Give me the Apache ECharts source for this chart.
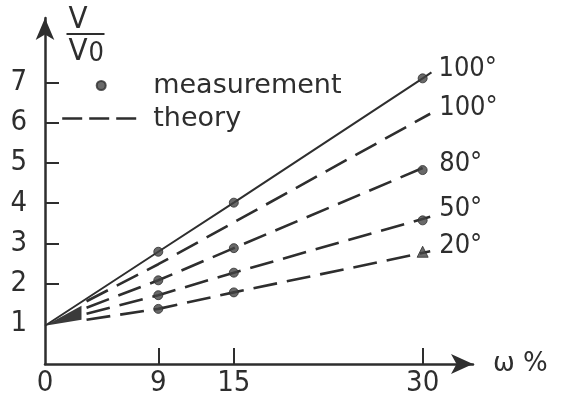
<!DOCTYPE html>
<html>
<head>
<meta charset="utf-8">
<script src="https://cdn.jsdelivr.net/npm/echarts@6/dist/echarts.min.js"></script>
<style>
  html, body { margin: 0; padding: 0; background: #fff; }
  #chart { width: 563px; height: 398px; }
</style>
</head>
<body>
<div id="chart"></div>
<script>
// Relative volume V/V0 against moisture content ω % at several temperatures.
const xTickValues = [0, 9, 15, 30];
const yTickValues = [1, 2, 3, 4, 5, 6, 7];

// measured points (ω = 9, 15, 30 %)
const omegaMeasured = [9, 15, 30];
const measured100 = [2.79, 4.01, 7.10];
const measured80 = [2.08, 2.88, 4.82];
const measured50 = [1.71, 2.27, 3.57];
const measured20 = [1.37, 1.78, 2.79];
const lastMarker20 = 'triangle';

// solid curve through the 100° measurements
const omegaSolid = [0, 9, 15, 30, 30.7];
const solid100 = [0.95, 2.79, 4.01, 7.10, 7.25];

// theoretical curves
const omegaTheory = [3.3, 9, 15, 30.6];
const theory100 = [1.56, 2.48, 3.52, 6.22];
const theory80 = [1.40, 2.08, 2.88, 4.95];
const theory50 = [1.25, 1.71, 2.27, 3.66];
const theory20 = [1.10, 1.37, 1.78, 2.80];

// converging bundle near the origin
const wedgeOmega = [0, 2.9, 2.9];
const wedgeValue = [0.95, 1.45, 1.10];

const curveLabels = ['100°', '100°', '80°', '50°', '20°'];

const INK = '#2e2e2e';
const DIGITS = '"DejaVu Sans Condensed", "DejaVu Sans", sans-serif';
const TEXT = '"DejaVu Sans", sans-serif';

const pairs = (xs, ys) => xs.map((x, i) => [x, ys[i]]);

function theorySeries(values, label, dy) {
  return {
    name: 'theory',
    type: 'line',
    data: pairs(omegaTheory, values),
    symbol: 'none',
    silent: true,
    itemStyle: { color: INK },
    lineStyle: { color: INK, width: 2.6, type: [24, 10] },
    endLabel: {
      show: true,
      formatter: label,
      color: INK,
      fontFamily: DIGITS,
      fontSize: 27,
      distance: 9,
      offset: [0, dy]
    },
    z: 3
  };
}

function measuredSeries(values, lastSymbol) {
  return {
    name: 'measurement',
    type: 'scatter',
    data: omegaMeasured.map((x, i) => {
      const item = { value: [x, values[i]] };
      if (lastSymbol && i === omegaMeasured.length - 1) {
        item.symbol = lastSymbol;
        item.symbolSize = 11;
      }
      return item;
    }),
    symbol: 'circle',
    symbolSize: 9,
    itemStyle: { color: '#444', borderColor: INK, borderWidth: 1 },
    z: 5
  };
}

const chart = echarts.init(document.getElementById('chart'), null, { renderer: 'canvas' });

chart.setOption({
  backgroundColor: '#fff',
  animation: false,
  grid: { left: 45, right: 90, top: 18, bottom: 26 },
  legend: {
    left: 56,
    top: 67,
    orient: 'vertical',
    itemWidth: 78,
    itemHeight: 9,
    itemGap: 6,
    selectedMode: false,
    textStyle: { color: INK, fontFamily: TEXT, fontSize: 27, lineHeight: 26, padding: [0, 0, 0, 8] },
    data: [
      { name: 'measurement', icon: 'circle', itemStyle: { color: '#444' } },
      { name: 'theory', itemStyle: { opacity: 0 }, lineStyle: { color: INK, width: 2.4, type: [20, 7] } }
    ]
  },
  xAxis: {
    type: 'value',
    min: 0,
    max: 34,
    name: 'ω %',
    nameLocation: 'end',
    nameGap: 20,
    nameTextStyle: { color: INK, fontFamily: TEXT, fontSize: 26, padding: [0, 0, 12, 0] },
    axisLine: {
      show: true,
      lineStyle: { color: INK, width: 2.5 },
      symbol: ['none', 'arrow'],
      symbolSize: [15, 22],
      symbolOffset: [0, 0]
    },
    axisTick: { show: true, inside: true, length: 16, customValues: xTickValues.slice(1), lineStyle: { color: INK, width: 2 } },
    axisLabel: { customValues: xTickValues, color: INK, fontFamily: DIGITS, fontSize: 29, margin: 5 },
    splitLine: { show: false }
  },
  yAxis: {
    type: 'value',
    min: 0,
    max: 8.6,
    axisLine: {
      show: true,
      lineStyle: { color: INK, width: 2.5 },
      symbol: ['none', 'arrow'],
      symbolSize: [14, 22],
      symbolOffset: [0, 0]
    },
    axisTick: { show: true, inside: true, length: 14, customValues: yTickValues.slice(1), lineStyle: { color: INK, width: 2 } },
    axisLabel: { customValues: yTickValues, color: INK, fontFamily: DIGITS, fontSize: 29, margin: 18 },
    splitLine: { show: false }
  },
  graphic: [
    {
      type: 'group',
      left: 64,
      top: 4,
      children: [
        { type: 'text', left: 2, top: 0, style: { text: 'V', fill: INK, font: '31px ' + DIGITS } },
        { type: 'line', shape: { x1: 0, y1: 30, x2: 38, y2: 30 }, style: { stroke: INK, lineWidth: 2.2 } },
        { type: 'text', left: 2, top: 32, style: { text: '{a|V}{b|0}', fill: INK, rich: { a: { fontSize: 31, fontFamily: DIGITS, fill: INK }, b: { fontSize: 27, fontFamily: DIGITS, fill: INK, padding: [5, 0, 0, 1] } } } }
      ]
    }
  ],
  series: [
    {
      name: 'wedge',
      type: 'custom',
      silent: true,
      data: [[wedgeOmega[0], wedgeValue[0]]],
      renderItem: function (params, api) {
        const pts = wedgeOmega.map((x, i) => api.coord([x, wedgeValue[i]]));
        return { type: 'polygon', shape: { points: pts }, style: { fill: '#3a3a3a' } };
      },
      z: 2
    },
    {
      name: 'measured 100°',
      type: 'line',
      data: pairs(omegaSolid, solid100),
      symbol: 'none',
      silent: true,
      lineStyle: { color: INK, width: 2 },
      endLabel: { show: true, formatter: curveLabels[0], color: INK, fontFamily: DIGITS, fontSize: 27, distance: 7, offset: [0, -3] },
      z: 3
    },
    theorySeries(theory100, curveLabels[1], -6),
    theorySeries(theory80, curveLabels[2], -1),
    theorySeries(theory50, curveLabels[3], -8),
    theorySeries(theory20, curveLabels[4], -5),
    measuredSeries(measured100),
    measuredSeries(measured80),
    measuredSeries(measured50),
    measuredSeries(measured20, lastMarker20)
  ]
});
</script>
</body>
</html>
